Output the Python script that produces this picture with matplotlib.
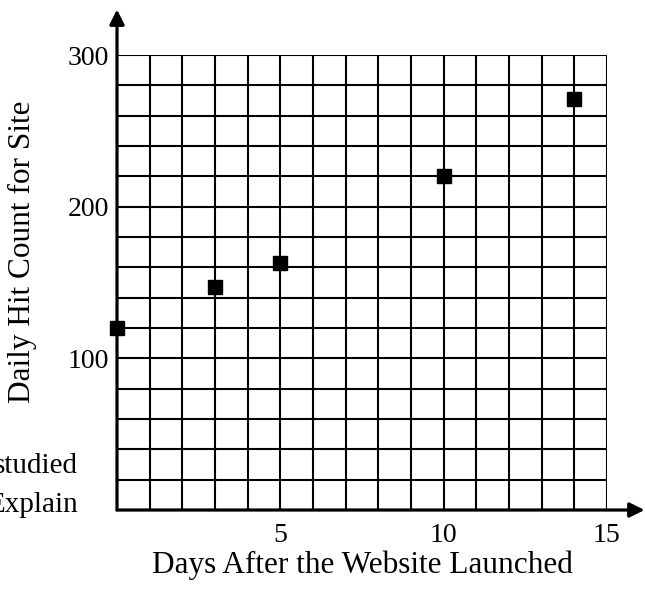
import numpy as np
import matplotlib
matplotlib.use("Agg")
import matplotlib.pyplot as plt

days = [0, 3, 5, 10, 14]
hits = [120, 147, 163, 220, 271]
xtick_vals = [5, 10, 15]
ytick_vals = [100, 200, 300]

plt.rcParams['font.family'] = ['Liberation Serif', 'DejaVu Serif']

fig = plt.figure(figsize=(6.45, 5.89), dpi=100)
ax = fig.add_axes([0.1814, 0.1341, 0.7596, 0.7725])
ax.set_xlim(0, 15)
ax.set_ylim(0, 300)

# grid: one line per day, one per 20 hits
for gx in range(1, 16):
    ax.axvline(gx, color='black', lw=1.5, zorder=1)
for gy in range(20, 301, 20):
    ax.axhline(gy, color='black', lw=1.5, zorder=1)

for s in ax.spines.values():
    s.set_visible(False)

ax.set_xticks(xtick_vals)
ax.set_yticks(ytick_vals)
ax.tick_params(length=0, labelsize=20)
ax.tick_params(axis='x', pad=9)
ax.tick_params(axis='y', pad=6)

# axes with arrows
ax.annotate('', xy=(0, 330), xytext=(0, 0), annotation_clip=False,
            arrowprops=dict(arrowstyle='-|>', color='black', lw=2.3,
                            mutation_scale=22, shrinkA=0, shrinkB=0))
ax.annotate('', xy=(16.15, 0), xytext=(0, 0), annotation_clip=False,
            arrowprops=dict(arrowstyle='-|>', color='black', lw=2.3,
                            mutation_scale=22, shrinkA=0, shrinkB=0))

ax.plot(days, hits, 's', color='black', markersize=9.5, clip_on=False, zorder=5)

ax.set_xlabel('Days After the Website Launched', fontsize=22.5)
ax.set_ylabel('Daily Hit Count for Site', fontsize=22.5)
ax.xaxis.set_label_coords(0.5, -0.088)
ax.yaxis.set_label_coords(-0.163, 0.567)

# cut-off text from the surrounding page
fig.text(78/645, 1 - 473/589, 'studied', fontsize=21, ha='right', va='baseline')
fig.text(78/645, 1 - 512/589, 'Explain', fontsize=21, ha='right', va='baseline')

fig.savefig('out.png', dpi=100)
